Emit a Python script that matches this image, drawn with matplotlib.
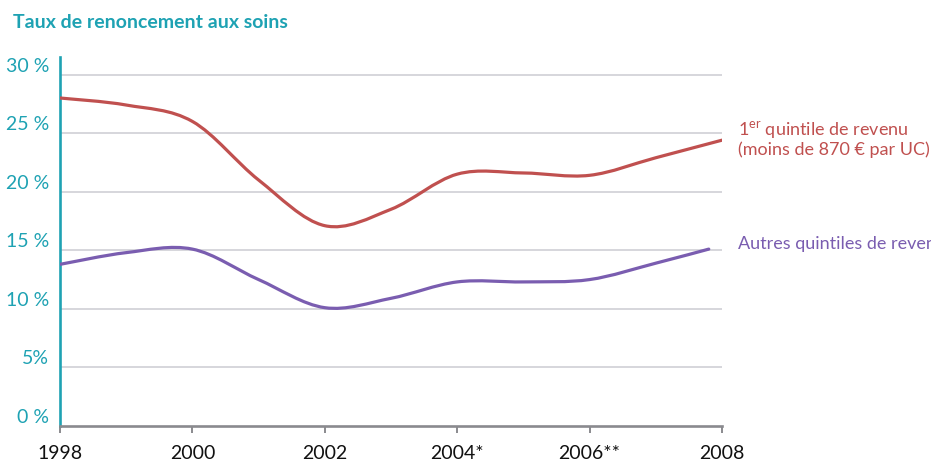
import numpy as np
import matplotlib
matplotlib.use("Agg")
import matplotlib.pyplot as plt
from matplotlib.path import Path
from matplotlib.patches import PathPatch

# -----------------------------
# Data
# -----------------------------
years_red = [1998, 1999, 2000, 2001, 2002, 2003, 2004, 2005, 2006, 2007, 2008]
first_quintile = [28.0, 27.4, 26.0, 21.0, 17.1, 18.5, 21.5, 21.6, 21.4, 22.9, 24.4]

years_purple = [1998, 1999, 2000, 2001, 2002, 2003, 2004, 2005, 2006, 2007, 2007.8]
other_quintiles = [13.8, 14.8, 15.1, 12.5, 10.1, 10.9, 12.3, 12.3, 12.5, 13.9, 15.1]

xticks = [1998, 2000, 2002, 2004, 2006, 2008]
xtick_labels = ["1998", "2000", "2002", "2004*", "2006**", "2008"]
yticks = [0, 5, 10, 15, 20, 25, 30]
ytick_labels = ["0 %", "5%", "10 %", "15 %", "20 %", "25 %", "30 %"]

label_red = "1$^{\\rm er}$ quintile de revenu\n(moins de 870 € par UC)"
label_purple = "Autres quintiles de reven"
title = "Taux de renoncement aux soins"

# -----------------------------
# Style
# -----------------------------
TEAL = "#1ea2b3"
RED = "#c0504f"
PURPLE = "#7a5db0"
GRID = "#cfcfd6"
AXIS_GREY = "#8a8a8e"
FONT = "Lato"

plt.rcParams["font.family"] = [FONT, "DejaVu Sans"]
plt.rcParams["mathtext.fontset"] = "custom"
plt.rcParams["mathtext.rm"] = FONT


def smooth_path(xs, ys):
    # Catmull-Rom spline turned into cubic Bezier segments
    pts = np.column_stack([xs, ys]).astype(float)
    ext = np.vstack([pts[0], pts, pts[-1]])
    verts = [pts[0]]
    codes = [Path.MOVETO]
    for i in range(1, len(ext) - 2):
        p0, p1, p2, p3 = ext[i - 1], ext[i], ext[i + 1], ext[i + 2]
        verts += [p1 + (p2 - p0) / 6, p2 - (p3 - p1) / 6, p2]
        codes += [Path.CURVE4] * 3
    return Path(verts, codes)


fig = plt.figure(figsize=(9.31, 4.68), dpi=100)
ax = fig.add_axes([60 / 931, 42 / 468, 662 / 931, 369 / 468])

ax.set_xlim(1998, 2008)
ax.set_ylim(0, 31.5)

for y in yticks[1:]:
    ax.axhline(y, color=GRID, linewidth=1.2, zorder=1)

for xs, ys, col in [(years_red, first_quintile, RED),
                    (years_purple, other_quintiles, PURPLE)]:
    ax.add_patch(PathPatch(smooth_path(xs, ys), facecolor="none",
                           edgecolor=col, linewidth=2.3, capstyle="round",
                           zorder=3))

ax.spines["top"].set_visible(False)
ax.spines["right"].set_visible(False)
ax.spines["left"].set_color(TEAL)
ax.spines["left"].set_linewidth(1.9)
ax.spines["bottom"].set_color(AXIS_GREY)
ax.spines["bottom"].set_linewidth(1.9)

ax.set_xticks(xticks)
ax.set_xticklabels(xtick_labels, fontsize=14, color="#111111")
ax.tick_params(axis="x", direction="out", length=5, width=1.4,
               color=AXIS_GREY, pad=9)

ax.set_yticks(yticks)
ax.set_yticklabels(ytick_labels, fontsize=14, color=TEAL)
ax.tick_params(axis="y", length=0, pad=8)
for lab in ax.get_yticklabels():
    lab.set_va("bottom")

ax.text(2008.24, 24.55, label_red, color=RED, fontsize=13,
        ha="left", va="center", linespacing=1.0, clip_on=False)
ax.text(2008.24, 15.5, label_purple, color=PURPLE, fontsize=13,
        ha="left", va="center", clip_on=False)

fig.text(13 / 931, 1 - 22 / 468, title, color=TEAL, fontsize=14,
         fontweight="bold", ha="left", va="center")

fig.savefig("out.png", dpi=100)
